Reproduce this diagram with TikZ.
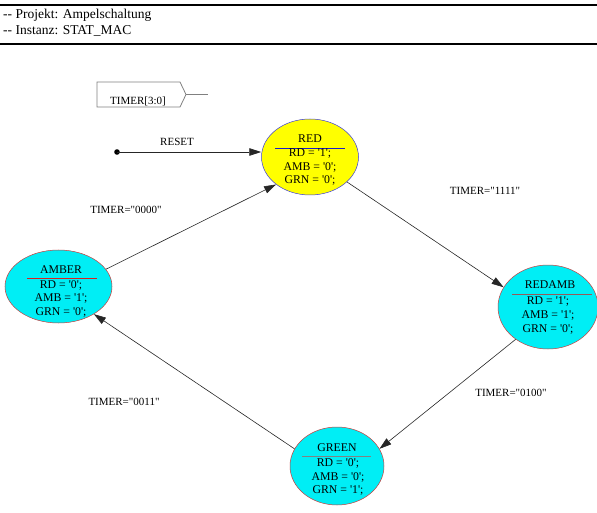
\documentclass[tikz,border=0pt]{standalone}
\usepackage{fontspec}
\setmainfont{Liberation Serif}[Ligatures=TeXOff]
\usetikzlibrary{arrows.meta,shapes.geometric}
\definecolor{stateyellow}{RGB}{255,255,0}
\definecolor{statecyan}{RGB}{0,238,245}
\definecolor{rimred}{RGB}{200,60,60}
\definecolor{rimblue}{RGB}{60,60,220}
\definecolor{barred}{RGB}{220,30,30}
\definecolor{barblue}{RGB}{30,30,200}
\definecolor{barbrown}{RGB}{150,90,90}
\definecolor{bargray}{RGB}{130,130,130}
\begin{document}
\begin{tikzpicture}[x=1pt,y=-1pt,
  state/.style={ellipse, draw=rimred, line width=0.5pt, inner sep=0pt},
  txt/.style={font=\fontsize{11}{13}\selectfont, inner sep=0pt, anchor=center},
  stxt/.style={font=\fontsize{11.8}{13}\selectfont, inner sep=0pt, anchor=center},
  hdr/.style={font=\fontsize{13.5}{16}\selectfont, anchor=base west, inner sep=0pt},
  trans/.style={draw=black!85, line width=0.6pt, -{Triangle[length=12pt,width=7.5pt]}},
  bar/.style={line width=0.9pt}]
\useasboundingbox (0,0) rectangle (597,513);

% header block
\draw[line width=1.2pt] (0,5) -- (597,5);
\draw[line width=1.2pt] (0,44) -- (597,44);
\node[hdr] (proj) at (3,19) {-- Projekt: Ampelschaltung};
\node[hdr] (inst) at (3,35) {-- Instanz: STAT\_MAC};

% input port
\draw[draw=black!50, line width=0.8pt] (97,82) -- (180,82) -- (186,94.5) -- (180,107) -- (97,107) -- cycle;
\draw[draw=black!50, line width=0.8pt] (186,94.5) -- (208,94.5);
\node[txt] (port) at (138,101) {TIMER[3:0]};

% states
\node[state, draw=rimblue, fill=stateyellow, minimum width=97pt, minimum height=76pt] (red) at (310,157) {};
\node[state, fill=statecyan, minimum width=107pt, minimum height=73pt] (amber) at (58.5,286.5) {};
\node[state, fill=statecyan, minimum width=100pt, minimum height=84pt] (redamb) at (548,307) {};
\node[state, fill=statecyan, minimum width=94pt, minimum height=78pt] (green) at (337,466) {};

% RED contents
\node[stxt] (redT) at (310,139) {RED};
\draw[bar, barblue] (275,148) -- (345,148);
\node[stxt] (redA) at (310,154) {RD = '1';};
\node[stxt] (redB) at (310,167) {AMB = '0';};
\node[stxt] (redC) at (310,180) {GRN = '0';};

% AMBER contents
\node[stxt] (ambT) at (61,270) {AMBER};
\draw[bar, barred] (27,278) -- (97,278);
\node[stxt] (ambA) at (61,285.5) {RD = '0';};
\node[stxt] (ambB) at (61,299) {AMB = '1';};
\node[stxt] (ambC) at (61,312.5) {GRN = '0';};

% REDAMB contents
\node[stxt] (raT) at (550,285) {REDAMB};
\draw[bar, barbrown] (512,294) -- (592,294);
\node[stxt] (raA) at (548,302) {RD = '1';};
\node[stxt] (raB) at (548,315.5) {AMB = '1';};
\node[stxt] (raC) at (548,329) {GRN = '0';};

% GREEN contents
\node[stxt] (grT) at (337,448) {GREEN};
\draw[bar, bargray] (302,456) -- (371,456);
\node[stxt] (grA) at (338,463.5) {RD = '0';};
\node[stxt] (grB) at (338,477) {AMB = '0';};
\node[stxt] (grC) at (338,490.5) {GRN = '1';};

% reset entry
\coordinate (rst) at (117,152);
\fill (rst) circle (2.8pt);
\draw[trans] (rst) -- (rst -| red.west);
\node[txt] (rstL) at (177,142) {RESET};

% transitions
\draw[trans] (red.-34) -- (redamb.156);
\draw[trans] (redamb.-135) -- (green.22);
\draw[trans] (green.158) -- (amber.-38);
\draw[trans] (amber.20) -- (red.-141);

\node[txt] (t1) at (485,191) {TIMER="1111"};
\node[txt] (t2) at (511,393) {TIMER="0100"};
\node[txt] (t3) at (124,402) {TIMER="0011"};
\node[txt] (t4) at (126,210) {TIMER="0000"};
\end{tikzpicture}
\end{document}
